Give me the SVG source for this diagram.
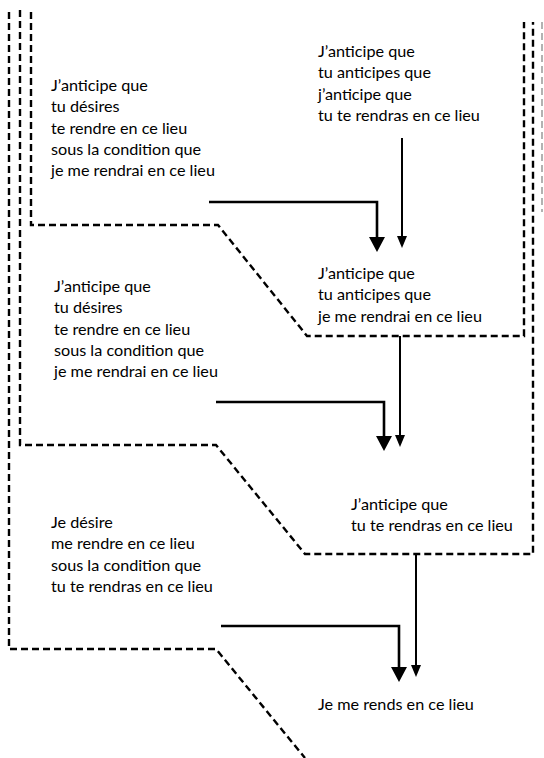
<svg xmlns="http://www.w3.org/2000/svg" width="544" height="758" viewBox="0 0 544 758">
<style>
  text { font-family: Lato, "Open Sans", "Liberation Sans", sans-serif; font-size: 16.2px; fill: #000; }
  .dash { fill: none; stroke: #000; stroke-width: 2.4; stroke-dasharray: 7 4; }
  .faint { fill: none; stroke: #999; stroke-width: 1.5; stroke-dasharray: 7 4; }
  .elbow { fill: none; stroke: #000; stroke-width: 2.6; }
  .thin { fill: none; stroke: #000; stroke-width: 2; }
</style>
<defs>
  <marker id="big" viewBox="0 0 15 16" refX="3" refY="8" markerWidth="15" markerHeight="16" markerUnits="userSpaceOnUse" orient="auto">
    <path d="M0,0 L15,8 L0,16 z" fill="#000"/>
  </marker>
  <marker id="small" viewBox="0 0 12 10" refX="2" refY="5" markerWidth="12" markerHeight="10" markerUnits="userSpaceOnUse" orient="auto">
    <path d="M0,0 L12,5 L0,10 z" fill="#000"/>
  </marker>
</defs>
<g id="frames">
  <path class="dash" d="M31,12 V225 H218 L307,336 H524 V22"/>
  <path class="dash" d="M20,10 V445 H216 L305,554 H533 V22"/>
  <path class="dash" d="M9,12 V649 H216 L305,758"/>
  <path class="faint" d="M542,22 V212"/>
</g>
<g id="connectors">
  <path class="thin" d="M402,138 V238" marker-end="url(#small)"/>
  <path class="thin" d="M400,336 V437" marker-end="url(#small)"/>
  <path class="thin" d="M416,554 V667" marker-end="url(#small)"/>
  <path class="elbow" d="M209,202 H377 V240" marker-end="url(#big)"/>
  <path class="elbow" d="M216,402 H384 V439" marker-end="url(#big)"/>
  <path class="elbow" d="M221,626 H399 V670" marker-end="url(#big)"/>
</g>
<g id="node1">
  <text x="51" y="91">J’anticipe que</text>
  <text x="51" y="112.3">tu désires</text>
  <text x="51" y="133.6">te rendre en ce lieu</text>
  <text x="51" y="154.9">sous la condition que</text>
  <text x="51" y="176.2">je me rendrai en ce lieu</text>
</g>
<g id="node2">
  <text x="318" y="57">J’anticipe que</text>
  <text x="318" y="78.3">tu anticipes que</text>
  <text x="318" y="99.6">j’anticipe que</text>
  <text x="318" y="120.9">tu te rendras en ce lieu</text>
</g>
<g id="node3">
  <text x="318" y="279">J’anticipe que</text>
  <text x="318" y="300.3">tu anticipes que</text>
  <text x="318" y="321.6">je me rendrai en ce lieu</text>
</g>
<g id="node4">
  <text x="54" y="292">J’anticipe que</text>
  <text x="54" y="313.3">tu désires</text>
  <text x="54" y="334.6">te rendre en ce lieu</text>
  <text x="54" y="355.9">sous la condition que</text>
  <text x="54" y="377.2">je me rendrai en ce lieu</text>
</g>
<g id="node5">
  <text x="351" y="510">J’anticipe que</text>
  <text x="351" y="531.3">tu te rendras en ce lieu</text>
</g>
<g id="node6">
  <text x="51" y="528">Je désire</text>
  <text x="51" y="549.3">me rendre en ce lieu</text>
  <text x="51" y="570.6">sous la condition que</text>
  <text x="51" y="591.9">tu te rendras en ce lieu</text>
</g>
<g id="node7">
  <text x="318" y="710">Je me rends en ce lieu</text>
</g>
</svg>
